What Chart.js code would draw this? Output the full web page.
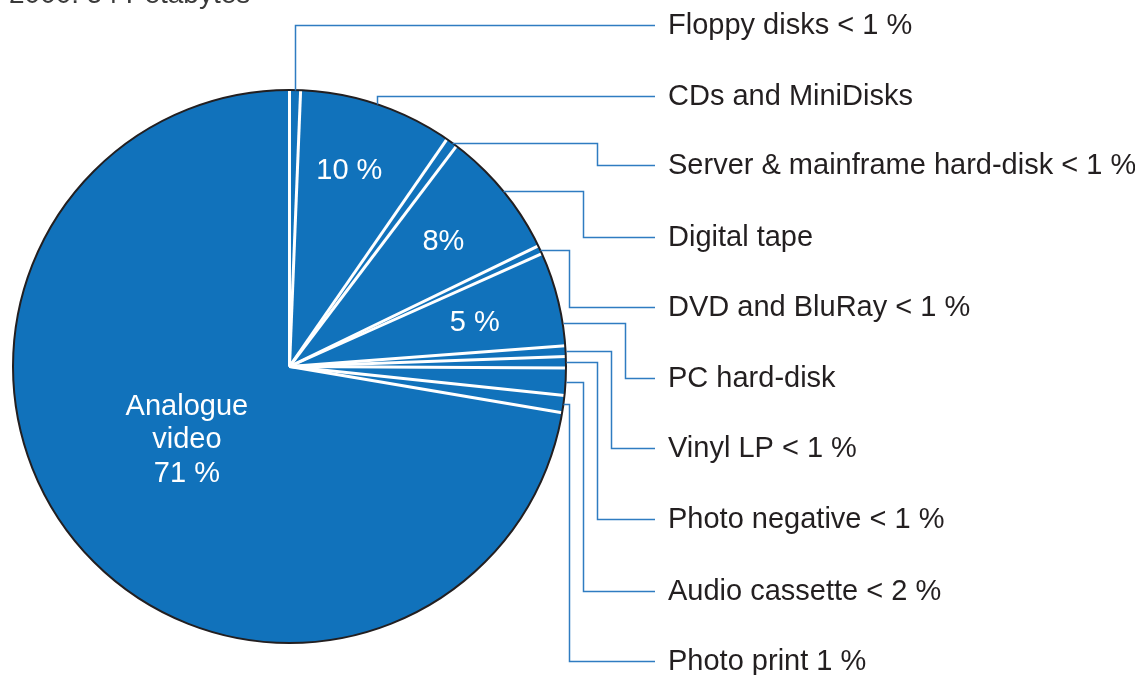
<!DOCTYPE html>
<html lang="en">
<head>
    <meta charset="UTF-8">
    <title>Storage 2000: 54 Petabytes</title>
    <script src="https://cdn.jsdelivr.net/npm/chart.js@4.4.0/dist/chart.umd.min.js"></script>
    <style>
        body { margin: 0; background: #fff; }
        .wrap { width: 1135px; height: 675px; position: relative; }
    </style>
</head>
<body>
    <div class="wrap">
        <canvas id="pieChart"></canvas>
    </div>

    <script>
        // slices, clockwise from 12 o'clock (share in %)
        const categories = ['Floppy disks', 'CDs and MiniDisks', 'Server & mainframe hard-disk', 'Digital tape',
            'DVD and BluRay', 'PC hard-disk', 'Vinyl LP', 'Photo negative', 'Audio cassette', 'Photo print', 'Analogue video'];
        const shares = [0.64, 9.0, 0.67, 7.5, 0.49, 5.5, 0.61, 0.67, 1.58, 1.0, 72.3];

        // text next to the pie
        const outerLabels = ['Floppy disks < 1 %', 'CDs and MiniDisks', 'Server & mainframe hard-disk < 1 %', 'Digital tape',
            'DVD and BluRay < 1 %', 'PC hard-disk', 'Vinyl LP < 1 %', 'Photo negative < 1 %', 'Audio cassette < 2 %', 'Photo print 1 %'];
        // text inside the pie (slice index -> lines)
        const innerLabels = { 1: ['10 %'], 3: ['8%'], 5: ['5 %'], 10: ['Analogue', 'video', '71 %'] };
        const title = '2000: 54 Petabytes';

        // leader line layout
        const labelY = [25, 96, 165, 237, 307, 378, 448, 519, 591, 661];
        const elbowX = [null, null, 597, 583, 569, 625, 611, 597, 583, 569];
        const anchorFrac = [0.5, 0.5, 0.5, 0.5, 0.5, 0.76, 0.5, 0.5, 0.5, 0.5];
        // inner label placement: [position along slice, fraction of radius]
        const innerPos = { 1: [0.45, 0.745], 3: [0.5, 0.72], 5: [0.52, 0.69], 10: [0.52, 0.453] };
        const lineEndX = 655;
        const textX = 668;

        const FONT = '29px "Liberation Sans", Arial, sans-serif';

        const piePlugin = {
            id: 'pieDecor',
            afterDatasetsDraw(chart) {
                const ctx = chart.ctx;
                const meta = chart.getDatasetMeta(0);
                const first = meta.data[0];
                const cx = first.x, cy = first.y, R = first.outerRadius;
                ctx.save();

                // white separators
                ctx.strokeStyle = '#ffffff';
                ctx.lineWidth = 3;
                meta.data.forEach(arc => {
                    ctx.beginPath();
                    ctx.moveTo(cx, cy);
                    ctx.lineTo(cx + R * Math.cos(arc.startAngle), cy + R * Math.sin(arc.startAngle));
                    ctx.stroke();
                });

                // outline
                ctx.beginPath();
                ctx.arc(cx, cy, R, 0, Math.PI * 2);
                ctx.strokeStyle = '#231f20';
                ctx.lineWidth = 2;
                ctx.stroke();

                // leaders + labels
                ctx.font = FONT;
                ctx.textBaseline = 'middle';
                ctx.textAlign = 'left';
                outerLabels.forEach((txt, i) => {
                    const arc = meta.data[i];
                    const ang = arc.startAngle + (arc.endAngle - arc.startAngle) * anchorFrac[i];
                    const px = Math.round(cx + R * Math.cos(ang)) + 0.5;
                    const py = Math.round(cy + R * Math.sin(ang)) + 0.5;
                    const ly = labelY[i] + 0.5;
                    ctx.beginPath();
                    ctx.moveTo(px, py);
                    if (elbowX[i] === null) {
                        ctx.lineTo(px, ly);
                    } else {
                        ctx.lineTo(elbowX[i] + 0.5, py);
                        ctx.lineTo(elbowX[i] + 0.5, ly);
                    }
                    ctx.lineTo(lineEndX, ly);
                    ctx.strokeStyle = '#2f7cc1';
                    ctx.lineWidth = 1.5;
                    ctx.stroke();
                    ctx.fillStyle = '#231f20';
                    ctx.fillText(txt, textX, labelY[i] + 1);
                });

                // labels inside slices
                ctx.textAlign = 'center';
                ctx.fillStyle = '#ffffff';
                Object.keys(innerLabels).forEach(k => {
                    const arc = meta.data[k];
                    const ang = arc.startAngle + (arc.endAngle - arc.startAngle) * innerPos[k][0];
                    const r = R * innerPos[k][1];
                    const x = cx + r * Math.cos(ang), y = cy + r * Math.sin(ang);
                    const lines = innerLabels[k];
                    lines.forEach((ln, j) => {
                        ctx.fillText(ln, x, y + 2 + (j - (lines.length - 1) / 2) * 33.5);
                    });
                });

                // title (cut off at the top edge)
                ctx.textAlign = 'left';
                ctx.textBaseline = 'alphabetic';
                ctx.fillStyle = '#3a3a3a';
                ctx.font = '28px "Liberation Sans", Arial, sans-serif';
                ctx.fillText(title, 9, 3);
                ctx.restore();
            }
        };

        document.addEventListener('DOMContentLoaded', () => {
            const ctx = document.getElementById('pieChart').getContext('2d');
            new Chart(ctx, {
                type: 'pie',
                data: {
                    labels: categories,
                    datasets: [{ data: shares, backgroundColor: '#1172bb', borderWidth: 0 }]
                },
                options: {
                    responsive: true,
                    maintainAspectRatio: false,
                    animation: false,
                    events: [],
                    layout: { padding: { left: 12, right: 568, top: 90, bottom: 32 } },
                    plugins: { legend: { display: false }, tooltip: { enabled: false } }
                },
                plugins: [piePlugin]
            });
        });
    </script>
</body>
</html>
